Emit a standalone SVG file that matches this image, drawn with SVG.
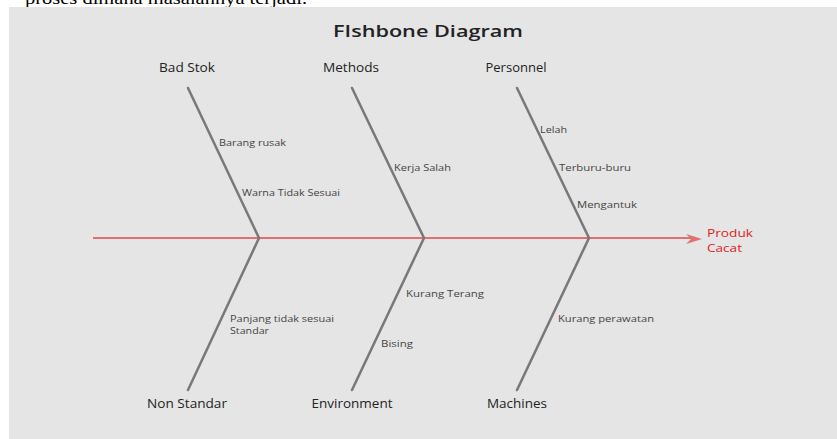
<svg xmlns="http://www.w3.org/2000/svg" width="837" height="439" viewBox="0 0 837 439">
<style>
.cat{font-family:"Open Sans","Noto Sans",sans-serif;font-size:12px;fill:#222;text-anchor:middle}
.cause{font-family:"Open Sans","Noto Sans",sans-serif;font-size:9.5px;fill:#444}
.eff{font-family:"Open Sans","Noto Sans",sans-serif;font-size:11px;fill:#dd1c1c}
.bone{stroke:#787878;stroke-width:2.5;fill:none;stroke-linecap:round;stroke-linejoin:miter}
</style>
<rect x="0" y="0" width="837" height="439" fill="#ffffff"/>
<text x="25" y="4" font-family="Liberation Serif,serif" font-size="17" fill="#000" textLength="282" lengthAdjust="spacingAndGlyphs">proses dimana masalahnya terjadi.</text>
<rect x="9" y="7" width="828" height="432" fill="#e5e5e5"/>
<g id="title"><text x="428" y="37" font-family="Open Sans,Noto Sans,sans-serif" font-size="16" font-weight="600" fill="#222" text-anchor="middle" textLength="190" lengthAdjust="spacingAndGlyphs">FIshbone Diagram</text></g>
<g id="connectors">
<line x1="93" y1="238" x2="692" y2="238" stroke="#e37070" stroke-width="2.2"/>
<path d="M702,239 L686,234 L691,239 L686,244 Z" fill="#e37070"/>
<polyline class="bone" points="188,88 259,238 188,390"/>
<polyline class="bone" points="352,88 424,238 352,390"/>
<polyline class="bone" points="517,88 589,238 517,390"/>
</g>
<g id="bad-stok">
<text class="cat" x="187" y="72" textLength="56" lengthAdjust="spacingAndGlyphs">Bad Stok</text>
<text class="cause" x="219" y="146" textLength="67" lengthAdjust="spacingAndGlyphs">Barang rusak</text>
<text class="cause" x="242" y="196" textLength="98" lengthAdjust="spacingAndGlyphs">Warna Tidak Sesuai</text>
</g>
<g id="methods">
<text class="cat" x="351" y="72" textLength="56" lengthAdjust="spacingAndGlyphs">Methods</text>
<text class="cause" x="394" y="171" textLength="57" lengthAdjust="spacingAndGlyphs">Kerja Salah</text>
</g>
<g id="personnel">
<text class="cat" x="516" y="72" textLength="61" lengthAdjust="spacingAndGlyphs">Personnel</text>
<text class="cause" x="540" y="133" textLength="27" lengthAdjust="spacingAndGlyphs">Lelah</text>
<text class="cause" x="559" y="171" textLength="72" lengthAdjust="spacingAndGlyphs">Terburu-buru</text>
<text class="cause" x="577" y="208" textLength="60" lengthAdjust="spacingAndGlyphs">Mengantuk</text>
</g>
<g id="produk-cacat">
<text class="eff" x="707" y="237" textLength="46" lengthAdjust="spacingAndGlyphs">Produk</text>
<text class="eff" x="707" y="252" textLength="35" lengthAdjust="spacingAndGlyphs">Cacat</text>
</g>
<g id="non-standar">
<text class="cat" x="187" y="408" textLength="80" lengthAdjust="spacingAndGlyphs">Non Standar</text>
<text class="cause" x="230" y="322" textLength="104" lengthAdjust="spacingAndGlyphs">Panjang tidak sesuai</text>
<text class="cause" x="230" y="334" textLength="39" lengthAdjust="spacingAndGlyphs">Standar</text>
</g>
<g id="environment">
<text class="cat" x="352" y="408" textLength="81" lengthAdjust="spacingAndGlyphs">Environment</text>
<text class="cause" x="406" y="297" textLength="78" lengthAdjust="spacingAndGlyphs">Kurang Terang</text>
<text class="cause" x="381" y="347" textLength="32" lengthAdjust="spacingAndGlyphs">Bising</text>
</g>
<g id="machines">
<text class="cat" x="517" y="408" textLength="60" lengthAdjust="spacingAndGlyphs">Machines</text>
<text class="cause" x="558" y="322" textLength="96" lengthAdjust="spacingAndGlyphs">Kurang perawatan</text>
</g>
</svg>
